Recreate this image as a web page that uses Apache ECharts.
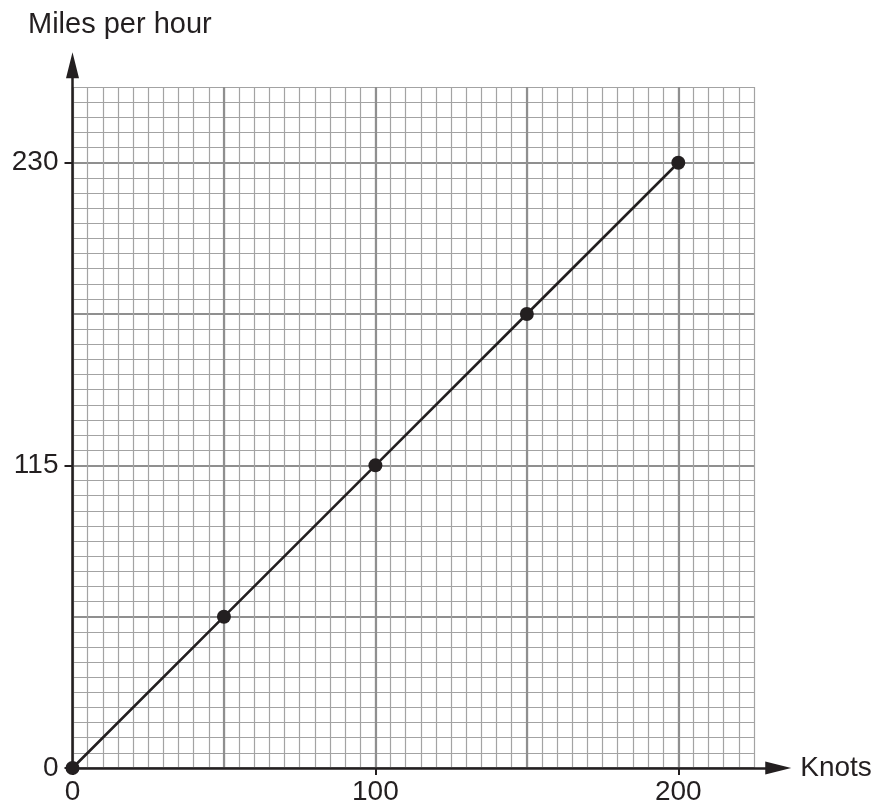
<!DOCTYPE html>
<html>
<head>
<meta charset="utf-8">
<script src="https://cdn.jsdelivr.net/npm/echarts@6/dist/echarts.min.js"></script>
<style>
  html, body { margin: 0; padding: 0; background: #fff; }
  #chart { width: 880px; height: 808px; }
</style>
</head>
<body>
<div id="chart"></div>
<script>
// ---- data ----
const knots = [0, 50, 100, 150, 200];
const mph = [0, 57.5, 115, 172.5, 230];
const xTickLabels = [0, 100, 200];
const yTickLabels = [0, 115, 230];
const xGridMax = 225, yGridMax = 258.75;
const xMinorStep = 5, xMajorStep = 50;
const yMinorStep = 5.75, yMajorStep = 57.5;
const xAxisMax = 233, yAxisMax = 267;

// ---- layout ----
const left = 72.5, bottom = 40;
const pxX = 3.029, pxY = 2.6317;

const ink = '#231f20';
const font = 'Liberation Sans, Arial, Helvetica, sans-serif';

const minorLine = { show: true, lineStyle: { color: '#a3a3a3', width: 1.2 } };
const majorLine = { show: true, showMinLine: true, showMaxLine: false, lineStyle: { color: '#8f8f8f', width: 2.2 } };

const hiddenAxisBits = {
  axisLine: { show: false }, axisTick: { show: false }, axisLabel: { show: false }
};

const chart = echarts.init(document.getElementById('chart'), null, { renderer: 'canvas' });
chart.setOption({
  animation: false,
  backgroundColor: '#fff',
  title: {
    text: 'Miles per hour',
    left: 28, top: 10, padding: 0,
    textStyle: { fontFamily: font, fontSize: 29, fontWeight: 'normal', color: ink }
  },
  grid: [
    { // axes grid
      left: left, bottom: bottom,
      width: xAxisMax * pxX, height: yAxisMax * pxY,
      containLabel: false
    },
    { // paper grid
      left: left, bottom: bottom,
      width: xGridMax * pxX, height: yGridMax * pxY,
      containLabel: false
    }
  ],
  xAxis: [
    Object.assign({ type: 'value', gridIndex: 1, position: 'bottom', min: 0, max: xGridMax,
      interval: xMinorStep, splitLine: minorLine, z: 0 }, hiddenAxisBits),
    Object.assign({ type: 'value', gridIndex: 1, position: 'bottom', min: 0, max: xGridMax,
      interval: xMajorStep, splitLine: majorLine, z: 0 }, hiddenAxisBits),
    {
      type: 'value', gridIndex: 0, position: 'bottom', min: 0, max: xAxisMax, interval: 100,
      z: 3,
      name: 'Knots', nameLocation: 'end', nameGap: 22,
      nameTextStyle: { fontFamily: font, fontSize: 28, color: ink, verticalAlign: 'middle' },
      splitLine: { show: false },
      axisLine: { show: true, symbol: ['none', 'triangle'], symbolSize: [13, 26],
        lineStyle: { color: ink, width: 2.5 } },
      axisTick: { show: true, customValues: xTickLabels, length: 7, lineStyle: { color: ink, width: 2 } },
      axisLabel: { show: true, customValues: xTickLabels, margin: 10,
        fontFamily: font, fontSize: 28, color: ink }
    }
  ],
  yAxis: [
    Object.assign({ type: 'value', gridIndex: 1, position: 'left', min: 0, max: yGridMax,
      interval: yMinorStep, splitLine: minorLine, z: 0 }, hiddenAxisBits),
    Object.assign({ type: 'value', gridIndex: 1, position: 'left', min: 0, max: yGridMax,
      interval: yMajorStep, splitLine: majorLine, z: 0 }, hiddenAxisBits),
    {
      type: 'value', gridIndex: 0, position: 'left', min: 0, max: yAxisMax, interval: 115,
      z: 3,
      splitLine: { show: false },
      axisLine: { show: true, symbol: ['none', 'triangle'], symbolSize: [13, 26],
        lineStyle: { color: ink, width: 2.5 } },
      axisTick: { show: true, customValues: yTickLabels, length: 8, lineStyle: { color: ink, width: 2 } },
      axisLabel: { show: true, customValues: yTickLabels, margin: 14,
        fontFamily: font, fontSize: 28, color: ink }
    }
  ],
  series: [{
    type: 'line',
    xAxisIndex: 2, yAxisIndex: 2,
    z: 5,
    data: knots.map((k, i) => [k, mph[i]]),
    symbol: 'circle', symbolSize: 14,
    itemStyle: { color: ink },
    lineStyle: { color: ink, width: 2.6 },
    silent: true
  }]
});
</script>
</body>
</html>
